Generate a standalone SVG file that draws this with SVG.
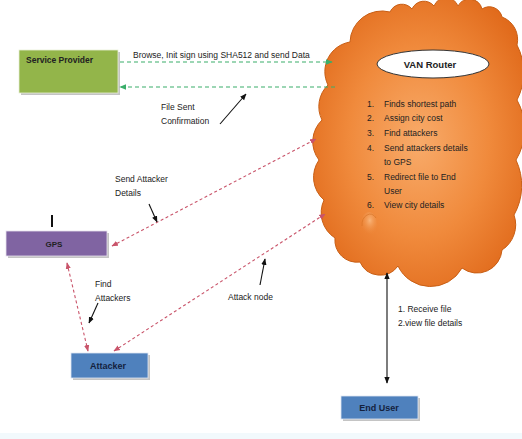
<svg xmlns="http://www.w3.org/2000/svg" width="522" height="439" viewBox="0 0 522 439">
<style>
text{font-family:"Liberation Sans",Arial,sans-serif;fill:#222}
.lbl{font-size:8.5px}
.bold{font-weight:bold}
.green{stroke:#3aae6a;stroke-width:1.2;stroke-dasharray:4 3;fill:none}
.red{stroke:#c9546a;stroke-width:1.1;stroke-dasharray:3 2.5;fill:none}
.blk{stroke:#111;stroke-width:1.1;fill:none}
.shadow{fill:#c4c4c4}
</style>
<defs>
<marker id="mg" viewBox="0 0 10 10" refX="9" refY="5" markerWidth="6" markerHeight="6" orient="auto-start-reverse"><path d="M0,1 L10,5 L0,9 z" fill="#3aae6a"/></marker>
<marker id="mr" viewBox="0 0 10 10" refX="9" refY="5" markerWidth="6" markerHeight="6" orient="auto-start-reverse"><path d="M0,1 L10,5 L0,9 z" fill="#c9546a"/></marker>
<marker id="mb" viewBox="0 0 10 10" refX="9" refY="5" markerWidth="6" markerHeight="6" orient="auto-start-reverse"><path d="M0,1 L10,5 L0,9 z" fill="#111"/></marker>
<radialGradient id="cg" cx="0.5" cy="0.5" r="0.6">
<stop offset="0" stop-color="#f8ab6a"/>
<stop offset="0.55" stop-color="#f08a3c"/>
<stop offset="1" stop-color="#e0691a"/>
</radialGradient>
<radialGradient id="tg" cx="0.55" cy="0.35" r="0.6">
<stop offset="0" stop-color="#f9b57a"/>
<stop offset="1" stop-color="#ee8a3e" stop-opacity="0"/>
</radialGradient>
</defs>
<rect x="0" y="433" width="522" height="6" fill="#f2f9fc"/>

<g id="van-router">
<path d="M350,42 A32,32 0 0 1 390,12 A13,13 0 0 1 412,9 A13,13 0 0 1 434,6 A13,13 0 0 1 458,6 A13,13 0 0 1 482,9 A13,13 0 0 1 502,17 A24,24 0 0 1 517,45 A60,60 0 0 1 517,100 A60,60 0 0 1 516,160 A60,60 0 0 1 514,215 A30,30 0 0 1 502,250 A25,25 0 0 1 462,268 A36,36 0 0 1 398,266 A22,22 0 0 1 360,262 A22,22 0 0 1 335,238 A30,30 0 0 1 324,200 A30,30 0 0 1 319,160 A30,30 0 0 1 322,120 A30,30 0 0 1 328,85 A30,30 0 0 1 350,42 Z" fill="url(#cg)" stroke="#c85e14" stroke-width="1"/>
<ellipse cx="369" cy="224" rx="8" ry="12" fill="url(#tg)"/>
<path d="M362,226 A8,11 0 0 1 376,218" fill="none" stroke="#d36e20" stroke-width="0.8" opacity="0.7"/>
<ellipse cx="433" cy="64" rx="56" ry="14" fill="#fff" stroke="#333" stroke-width="1"/>
<text x="430" y="67.5" class="bold" font-size="9.5" text-anchor="middle">VAN Router</text>
<g class="lbl">
<text x="367" y="107">1.</text><text x="384" y="107">Finds shortest  path</text>
<text x="367" y="121">2.</text><text x="384" y="121">Assign city cost</text>
<text x="367" y="136">3.</text><text x="384" y="136">Find attackers</text>
<text x="367" y="151">4.</text><text x="384" y="151">Send attackers  details</text>
<text x="384" y="165">to GPS</text>
<text x="367" y="180">5.</text><text x="384" y="180">Redirect file to End</text>
<text x="384" y="194">User</text>
<text x="367" y="208">6.</text><text x="384" y="208">View city details</text>
</g>
</g>

<g id="service-provider">
<rect x="21" y="52" width="99" height="43" class="shadow"/>
<rect x="19" y="50" width="99" height="43" fill="#93b54a" stroke="#e8efd8" stroke-width="0.8"/>
<text x="26" y="63" class="bold" font-size="8.5">Service Provider</text>
</g>

<g id="gps">
<rect x="8" y="233" width="101" height="25" class="shadow"/>
<rect x="6" y="231" width="101" height="25" fill="#8064a2" stroke="#e6e0ee" stroke-width="0.8"/>
<text x="54" y="247" class="bold" font-size="8" text-anchor="middle">GPS</text>
<line x1="52" y1="215" x2="52" y2="227" stroke="#111" stroke-width="2"/>
</g>

<g id="attacker">
<rect x="73" y="355" width="77" height="25" class="shadow"/>
<rect x="71" y="353" width="77" height="25" fill="#4f81bd" stroke="#dfe7f2" stroke-width="0.8"/>
<text x="108" y="369" class="bold" font-size="9" text-anchor="middle" style="fill:#14213d">Attacker</text>
</g>

<g id="end-user">
<rect x="343" y="398" width="77" height="23" class="shadow"/>
<rect x="341" y="396" width="77" height="23" fill="#4f81bd" stroke="#dfe7f2" stroke-width="0.8"/>
<text x="379" y="411" class="bold" font-size="9" text-anchor="middle" style="fill:#14213d">End User</text>
</g>

<g id="connectors">
<line x1="120" y1="62" x2="332" y2="62" class="green" marker-end="url(#mg)"/>
<line x1="335" y1="87" x2="120" y2="87" class="green" marker-end="url(#mg)"/>
<line x1="112" y1="246" x2="316" y2="139" class="red" marker-start="url(#mr)" marker-end="url(#mr)"/>
<line x1="114" y1="351" x2="325" y2="214" class="red" marker-start="url(#mr)" marker-end="url(#mr)"/>
<line x1="67" y1="263" x2="88" y2="351" class="red" marker-start="url(#mr)" marker-end="url(#mr)"/>
<line x1="387" y1="273" x2="387" y2="383" class="blk" marker-start="url(#mb)" marker-end="url(#mb)"/>
<line x1="220" y1="124" x2="246" y2="94" class="blk" marker-end="url(#mb)"/>
<line x1="149" y1="204" x2="157" y2="222" class="blk" marker-end="url(#mb)"/>
<line x1="98" y1="303" x2="89" y2="323" class="blk" marker-end="url(#mb)"/>
<line x1="260" y1="285" x2="265" y2="259" class="blk" marker-end="url(#mb)"/>
<g class="lbl">
<text x="133" y="58">Browse, Init sign using SHA512 and send Data</text>
<text x="161" y="110">File Sent</text>
<text x="161" y="124">Confirmation</text>
<text x="115" y="182">Send Attacker</text>
<text x="115" y="196">Details</text>
<text x="95" y="287">Find</text>
<text x="95" y="301">Attackers</text>
<text x="228" y="300">Attack node</text>
<text x="398" y="312">1. Receive file</text>
<text x="398" y="326">2.view file details</text>
</g>
</g>
</svg>
